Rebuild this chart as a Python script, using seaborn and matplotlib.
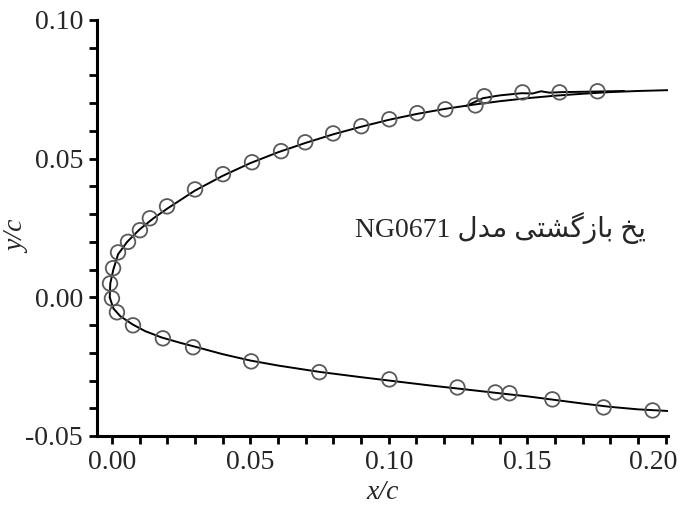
import numpy as np
import pandas as pd
import matplotlib
matplotlib.use("Agg")
import matplotlib.pyplot as plt
import matplotlib.transforms as mtransforms
from matplotlib.ticker import MultipleLocator, FormatStrFormatter
import seaborn as sns

# --- 輪郭線（上面・下面） ---
upper_x = [-0.0008, -0.0006, 0.0005, 0.0022, 0.0055, 0.010, 0.015, 0.020, 0.030, 0.040,
           0.050, 0.060, 0.070, 0.080, 0.090, 0.100, 0.110, 0.120, 0.130, 0.140,
           0.150, 0.160, 0.170, 0.180, 0.190, 0.201]
upper_y = [0.0000, 0.0050, 0.0100, 0.0155, 0.0200, 0.0245, 0.0285, 0.0320, 0.0385, 0.0438,
           0.0484, 0.0523, 0.0557, 0.0588, 0.0615, 0.0640, 0.0661, 0.0679, 0.0694, 0.0707,
           0.0718, 0.0727, 0.0734, 0.0740, 0.0744, 0.0747]

# 上面の二重線（実験の輪郭）
upper2_x = [0.128, 0.134, 0.140, 0.148, 0.152, 0.155, 0.158, 0.163, 0.175, 0.185]
upper2_y = [0.0690, 0.0718, 0.0728, 0.0736, 0.0735, 0.0743, 0.0738, 0.0740, 0.0742, 0.0744]

lower_x = [-0.0008, 0.0005, 0.003, 0.0075, 0.012, 0.018, 0.025, 0.030, 0.040, 0.050,
           0.060, 0.075, 0.090, 0.100, 0.115, 0.125, 0.140, 0.150, 0.160, 0.170,
           0.180, 0.190, 0.201]
lower_y = [0.0000, -0.0040, -0.0068, -0.0098, -0.0122, -0.0145, -0.0165, -0.0178, -0.0205, -0.0228,
           -0.0246, -0.0269, -0.0288, -0.0300, -0.0318, -0.0329, -0.0346, -0.0357, -0.0370, -0.0383,
           -0.0395, -0.0404, -0.0410]

# --- 丸印（計算点） ---
pts_x = [-0.0007, 0.0000, 0.0004, 0.0022, 0.0058, 0.0101, 0.0137, 0.0199, 0.0300, 0.0401,
         0.0506, 0.0611, 0.0698, 0.0799, 0.0901, 0.1002, 0.1103, 0.1204, 0.1313, 0.1345,
         0.1483, 0.1617, 0.1754,
         0.0018, 0.0076, 0.0184, 0.0293, 0.0503, 0.0749, 0.1002, 0.1248, 0.1385, 0.1436,
         0.1591, 0.1776, 0.1953]
pts_y = [0.0050, -0.0004, 0.0105, 0.0162, 0.0200, 0.0242, 0.0285, 0.0328, 0.0389, 0.0444,
         0.0487, 0.0527, 0.0559, 0.0591, 0.0617, 0.0642, 0.0664, 0.0678, 0.0692, 0.0725,
         0.0739, 0.0739, 0.0743,
         -0.0054, -0.0101, -0.0148, -0.0180, -0.0231, -0.0270, -0.0296, -0.0325, -0.0343, -0.0346,
         -0.0368, -0.0397, -0.0408]

label_text = "یخ بازگشتی مدل NG0671"
# 表示用（右から左の文字を整形済みの形で並べたもの）
label_visual = "NG0671 \uFEDD\uFEAA\uFEE3 \uFBFD\uFE98\uFEB8\uFB94\uFEAF\uFE8E\uFE91 \uFEA6\uFBFE"

sns.set_style("ticks")
plt.rcParams['font.family'] = ['Liberation Serif', 'DejaVu Sans']

fig = plt.figure(figsize=(6.87, 5.22), dpi=100)
ax = fig.add_axes([0.1412, 0.1648, 0.8305, 0.7969])

outline = pd.concat([
    pd.DataFrame({'x': upper_x, 'y': upper_y, 'part': 'upper'}),
    pd.DataFrame({'x': upper2_x, 'y': upper2_y, 'part': 'upper2'}),
    pd.DataFrame({'x': lower_x, 'y': lower_y, 'part': 'lower'}),
])
sns.lineplot(data=outline, x='x', y='y', units='part', estimator=None, sort=False,
             color='black', linewidth=1.4, ax=ax)

pts = pd.DataFrame({'x': pts_x, 'y': pts_y})
sns.scatterplot(data=pts, x='x', y='y', ax=ax, s=110, marker='o',
                facecolor='none', edgecolor='#5a5a5a', linewidth=1.3, zorder=3)

ax.set_xlim(-0.0054, 0.2007)
ax.set_ylim(-0.05, 0.10)
ax.xaxis.set_major_locator(MultipleLocator(0.05))
ax.xaxis.set_minor_locator(MultipleLocator(0.01))
ax.yaxis.set_major_locator(MultipleLocator(0.05))
ax.yaxis.set_minor_locator(MultipleLocator(0.01))
ax.xaxis.set_major_formatter(FormatStrFormatter('%.2f'))
ax.yaxis.set_major_formatter(FormatStrFormatter('%.2f'))
ax.tick_params(which='both', direction='out', length=6, width=2, color='black',
               labelsize=20, pad=4)

for side in ['top', 'right']:
    ax.spines[side].set_visible(False)
for side in ['left', 'bottom']:
    ax.spines[side].set_linewidth(2.2)
    ax.spines[side].set_color('black')

ax.set_xlabel('x/c', fontsize=20, style='italic', labelpad=4)
ax.set_ylabel('y/c', fontsize=20, style='italic')
ax.yaxis.set_label_coords(-0.117, 0.48)

ax.text(0.0879, 0.0249, label_visual, fontsize=20, ha='left', va='center',
        family=['Liberation Serif', 'DejaVu Sans'])

# 右端の 0.20 が切れないよう少し左へ寄せる
fig.canvas.draw()
last = ax.get_xticklabels()[-1]
for lab in ax.get_xticklabels():
    if lab.get_text() == '0.20':
        last = lab
shift = mtransforms.ScaledTranslation(-0.12, 0, fig.dpi_scale_trans)
last.set_transform(last.get_transform() + shift)

fig.savefig('out.png', dpi=100)
